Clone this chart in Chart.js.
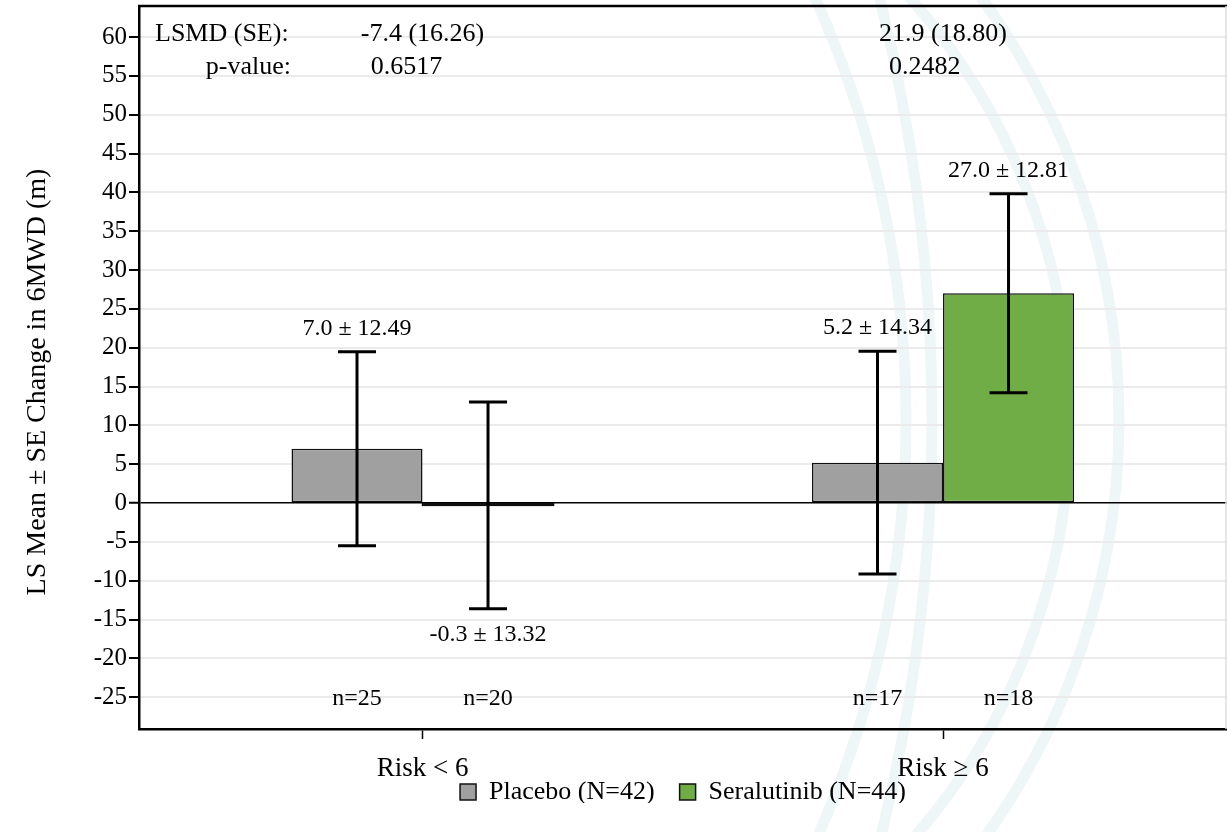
<!DOCTYPE html>
<html>
<head>
<meta charset="utf-8">
<script src="https://cdn.jsdelivr.net/npm/chart.js@4.4.1/dist/chart.umd.min.js"></script>
<style>
  html, body { margin: 0; padding: 0; background: #fff; overflow: hidden; }
  canvas { display: block; }
</style>
</head>
<body>
<canvas id="chart" width="1227" height="832"></canvas>
<script>
// ---- data ----
const categories = ['Risk < 6', 'Risk \u2265 6'];
const seriesNames = ['Placebo (N=42)', 'Seralutinib (N=44)'];
const placeboMean = [7.0, 5.2];
const placeboSE = [12.49, 14.34];
const placeboN = [25, 17];
const seralMean = [-0.3, 27.0];
const seralSE = [13.32, 12.81];
const seralN = [20, 18];
const lsmd = [-7.4, 21.9];
const lsmdSE = [16.26, 18.80];
const pValues = ['0.6517', '0.2482'];
const yTickValues = [-25, -20, -15, -10, -5, 0, 5, 10, 15, 20, 25, 30, 35, 40, 45, 50, 55, 60];
const yTitle = 'LS Mean \u00b1 SE Change in 6MWD (m)';
const nLabelLevel = -25;

const SERIF = "'Liberation Serif', 'Times New Roman', serif";
Chart.defaults.color = '#000';
Chart.defaults.font.family = SERIF;

function points(means) {
  return means.map((m, i) => ({ x: i + 1, y: m }));
}

// faint ring watermark behind the plot
const watermark = {
  id: 'watermark',
  beforeDraw(chart) {
    const ctx = chart.ctx;
    const rings = [
      { cx: 403, cy: 420, r: 716 },
      { cx: 433, cy: 420, r: 637 },
      { cx: -119, cy: 420, r: 1025 },
      { cx: -790, cy: 420, r: 1722 }
    ];
    ctx.save();
    ctx.fillStyle = '#fff';
    ctx.fillRect(0, 0, chart.width, chart.height);
    ctx.strokeStyle = '#eff6f8';
    ctx.lineWidth = 11;
    rings.forEach(g => {
      ctx.beginPath();
      ctx.arc(g.cx, g.cy, g.r, -Math.PI / 2, Math.PI / 2);
      ctx.stroke();
    });
    ctx.restore();
  }
};

// lift the legend row closer to the axis labels
const legendPlacement = {
  id: 'legendPlacement',
  afterLayout(chart) {
    const lg = chart.legend;
    if (lg) { lg.top -= 29; lg.bottom -= 29; }
  }
};

// error bars, value labels, group sizes, frame, axis title and summary statistics
const annotations = {
  id: 'annotations',
  afterDatasetsDraw(chart) {
    const ctx = chart.ctx;
    const xS = chart.scales.x, yS = chart.scales.y;
    const area = chart.chartArea;
    ctx.save();

    // top edge of the frame and the light right edge
    ctx.strokeStyle = '#000';
    ctx.lineWidth = 2.5;
    ctx.beginPath();
    ctx.moveTo(area.left - 1, area.top);
    ctx.lineTo(area.right, area.top);
    ctx.stroke();
    ctx.strokeStyle = '#dedede';
    ctx.lineWidth = 1.5;
    ctx.beginPath();
    ctx.moveTo(area.right - 1, area.top);
    ctx.lineTo(area.right - 1, area.bottom);
    ctx.stroke();

    chart.data.datasets.forEach((ds, di) => {
      const meta = chart.getDatasetMeta(di);
      meta.data.forEach((bar, i) => {
        const m = ds.data[i].y, se = ds.se[i];
        const x = bar.x;
        const yHi = yS.getPixelForValue(m + se);
        const yLo = yS.getPixelForValue(m - se);

        // outline of very short bars stays visible as a dark band
        if (Math.abs(bar.base - bar.y) < 4) {
          ctx.strokeStyle = '#111';
          ctx.lineWidth = 1.5;
          ctx.strokeRect(x - bar.width / 2, Math.min(bar.y, bar.base), bar.width, Math.abs(bar.base - bar.y));
        }

        ctx.strokeStyle = '#000';
        ctx.lineWidth = 3;
        ctx.beginPath();
        ctx.moveTo(x, yHi); ctx.lineTo(x, yLo);
        ctx.moveTo(x - 19, yHi); ctx.lineTo(x + 19, yHi);
        ctx.moveTo(x - 19, yLo); ctx.lineTo(x + 19, yLo);
        ctx.stroke();

        ctx.fillStyle = '#000';
        ctx.font = '24px ' + SERIF;
        ctx.textAlign = 'center';
        ctx.textBaseline = 'alphabetic';
        const label = m.toFixed(1) + ' \u00b1 ' + se.toFixed(2);
        if (m >= 0) ctx.fillText(label, x, yHi - 17);
        else ctx.fillText(label, x, yLo + 32);

        ctx.fillText('n=' + ds.n[i], x, yS.getPixelForValue(nLabelLevel) + 8);
      });
    });

    // least-squares mean difference and p-value per risk group
    ctx.font = '26px ' + SERIF;
    ctx.fillStyle = '#000';
    ctx.textBaseline = 'alphabetic';
    ctx.textAlign = 'left';
    ctx.fillText('LSMD (SE):', area.left + 16, 41);
    ctx.textAlign = 'right';
    ctx.fillText('p-value:', area.left + 152, 74);
    categories.forEach((c, i) => {
      const cx = xS.getPixelForValue(i + 1);
      const txt = lsmd[i].toFixed(1) + ' (' + lsmdSE[i].toFixed(2) + ')';
      const w = ctx.measureText(txt).width;
      ctx.textAlign = 'center';
      ctx.fillText(txt, cx, 41);
      ctx.textAlign = 'left';
      ctx.fillText(pValues[i], cx - w / 2 + 10, 74);
    });

    // rotated y-axis title
    ctx.save();
    ctx.translate(38, 382);
    ctx.rotate(-Math.PI / 2);
    ctx.font = '28px ' + SERIF;
    ctx.textAlign = 'center';
    ctx.textBaseline = 'middle';
    ctx.fillText(yTitle, 0, 0);
    ctx.restore();

    ctx.restore();
  }
};

new Chart(document.getElementById('chart'), {
  type: 'bar',
  data: {
    datasets: [
      {
        label: seriesNames[0],
        data: points(placeboMean),
        se: placeboSE,
        n: placeboN,
        backgroundColor: '#a0a0a0',
        borderColor: '#111',
        borderWidth: 1.5,
        borderSkipped: false,
        inflateAmount: 0,
        categoryPercentage: 0.5034,
        barPercentage: 1
      },
      {
        label: seriesNames[1],
        data: points(seralMean),
        se: seralSE,
        n: seralN,
        backgroundColor: '#70ad47',
        borderColor: '#111',
        borderWidth: 1.5,
        borderSkipped: false,
        inflateAmount: 0,
        categoryPercentage: 0.5034,
        barPercentage: 1
      }
    ]
  },
  options: {
    responsive: false,
    animation: false,
    devicePixelRatio: 1,
    layout: { padding: { top: 6, left: 0, right: 0, bottom: 0 } },
    scales: {
      x: {
        type: 'linear',
        min: 0.4553,
        max: 2.5456,
        offset: false,
        afterBuildTicks(scale) {
          scale.ticks = categories.map((c, i) => ({ value: i + 1 }));
        },
        afterFit(scale) { scale.height = 54; },
        ticks: {
          autoSkip: false,
          padding: 14,
          font: { size: 27, family: SERIF },
          color: '#000',
          callback: (v) => categories[Math.round(v) - 1]
        },
        grid: {
          offset: false,
          drawOnChartArea: false,
          drawTicks: true,
          tickLength: 10,
          tickColor: '#000',
          tickWidth: 1.5
        },
        border: { display: true, color: '#000', width: 2.5 }
      },
      y: {
        min: -29.1,
        max: 64.0,
        afterBuildTicks(scale) {
          scale.ticks = yTickValues.map(v => ({ value: v }));
        },
        afterFit(scale) {
          scale.width = 139;
          scale.paddingTop = 0;
          scale.paddingBottom = 0;
        },
        ticks: {
          padding: 2,
          font: { size: 25, family: SERIF },
          color: '#000'
        },
        grid: {
          color: (c) => (c.tick && c.tick.value === 0) ? '#000' : '#ebebeb',
          lineWidth: (c) => (c.tick && c.tick.value === 0) ? 1.5 : 2,
          tickColor: '#000',
          tickWidth: 2,
          tickLength: 10
        },
        border: { display: true, color: '#000', width: 2.5 }
      }
    },
    plugins: {
      tooltip: { enabled: false },
      legend: {
        position: 'bottom',
        fullSize: false,
        maxHeight: 49,
        labels: {
          font: { size: 26, family: SERIF },
          color: '#000',
          boxWidth: 16,
          boxHeight: 16,
          padding: 25
        }
      }
    }
  },
  plugins: [watermark, legendPlacement, annotations]
});
</script>
</body>
</html>
